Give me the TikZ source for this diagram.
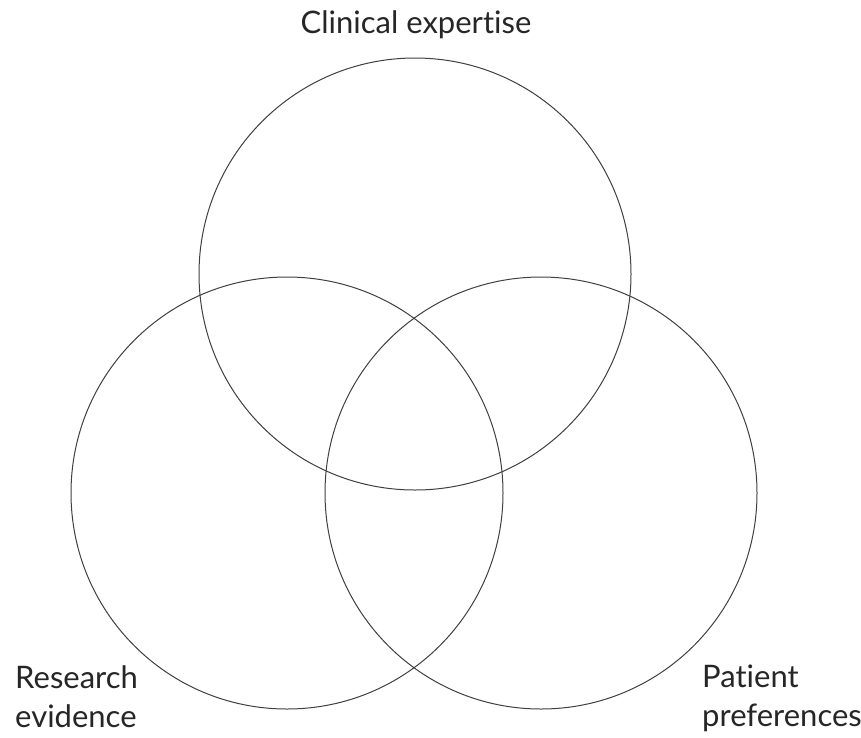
\documentclass[tikz,border=0pt]{standalone}
\usepackage{fontspec}
\setmainfont{Lato}[Ligatures={NoCommon,NoContextual}]
\begin{document}
\begin{tikzpicture}[x=1pt,y=-1pt,
  ring/.style={circle,draw=black!75,line width=1pt,inner sep=0pt,minimum size=432pt},
  lbl/.style={font=\fontsize{31}{39}\selectfont,text=black!85,inner sep=0pt,align=left}]
\useasboundingbox[fill=white] (0,0) rectangle (861,737);
\node[ring] (top) at (415,274) {};
\node[ring] (left) at (287,493) {};
\node[ring] (right) at (541,493) {};
\node[lbl,anchor=base] (clin) at (416,33) {Clinical expertise};
\node[lbl,anchor=base west] (res) at (15,727) {Research\\evidence};
\node[lbl,anchor=base west] (pat) at (702,726) {Patient\\preferences};
\end{tikzpicture}
\end{document}
